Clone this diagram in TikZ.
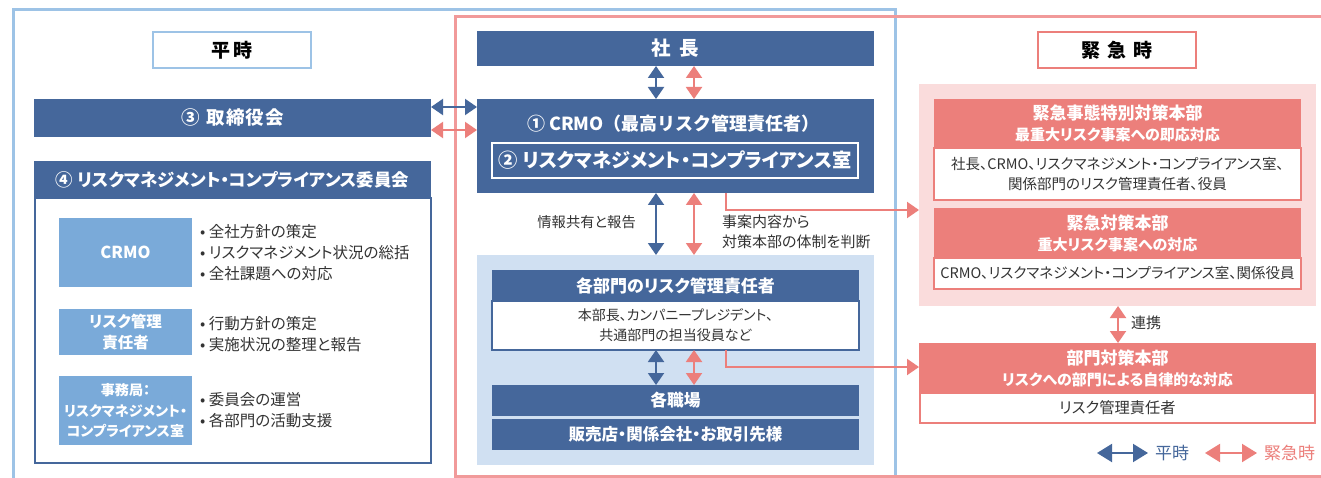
\documentclass[tikz,border=0pt]{standalone}
\usepackage{fontspec}
\setmainfont{Noto Sans CJK JP}[RawFeature={+palt}]
\newfontfamily\jpfull{Noto Sans CJK JP}
\usetikzlibrary{arrows.meta,calc}
\definecolor{dkblue}{HTML}{45679B}
\definecolor{ltblue}{HTML}{7AAAD9}
\definecolor{panelblue}{HTML}{D0E0F2}
\definecolor{frblue}{HTML}{9DC3E6}
\definecolor{pkhead}{HTML}{EC7F7B}
\definecolor{pkpanel}{HTML}{FADCDC}
\definecolor{frpink}{HTML}{F19A9A}
\definecolor{txtgray}{HTML}{333333}
\newcommand{\fsz}[2]{\fontsize{#1}{#2}\selectfont}
\newcommand{\hdline}[1]{{\fsz{17}{21}#1}}
\begin{document}
\begin{tikzpicture}[x=1pt,y=-1pt,
  box/.style={rectangle, inner sep=0pt, outer sep=0pt, align=center},
  bbar/.style={box, fill=dkblue, text=white, font=\bfseries\fsz{17}{20}},
  lbox/.style={box, fill=ltblue, text=white, font=\bfseries\fsz{15.5}{21}},
  pbar/.style={box, fill=pkhead, text=white, font=\bfseries\fsz{15}{21}},
  wbodyb/.style={box, fill=white, draw=dkblue, line width=1.5pt, text=txtgray, font=\fsz{14}{20}},
  wbodyp/.style={box, fill=white, draw=pkhead, line width=2pt, text=txtgray, font=\fsz{14.5}{19.5}},
  plain/.style={inner sep=0pt, text=txtgray, font=\fsz{15.5}{21}, align=left},
  tipd/.tip={Triangle[width=16pt,length=12pt]},
  tipl/.tip={Triangle[width=18pt,length=15pt]},
  barr/.style={draw=dkblue, line width=2pt, tipd-tipd},
  parr/.style={draw=pkhead, line width=2pt, tipd-tipd},
  pone/.style={draw=pkhead, line width=2pt, -tipd},
  lblbox/.style={box, fill=white, line width=2pt, minimum width=158pt, minimum height=36pt, text=black, font=\bfseries\fsz{19}{20}}
]
\useasboundingbox (0,0) rectangle (1321,478);
\clip (0,0) rectangle (1321,478);
\fill[white] (0,0) rectangle (1321,478);

% frames
\draw[frblue, line width=3pt] (13,490) -- (13,10) -- (895,10) -- (895,490);
\draw[frpink, line width=3pt] (1330,17) -- (455,17) -- (455,476) -- (1330,476);

% labels
\node[lblbox, draw=frblue] (heiji) at (232,50) {平\hspace{4pt}時};
\node[lblbox, draw=pkhead] (kinkyu) at (1117,50) {緊\hspace{7pt}急\hspace{7pt}時};

% left column
\node[bbar, font=\bfseries\fsz{18.5}{20}, minimum width=397pt, minimum height=38pt] (tori) at (232.5,118) {③\hspace{7pt}取\hspace{1pt}締\hspace{1pt}役\hspace{1pt}会};
\node[box, fill=white, draw=dkblue, line width=2pt, minimum width=396pt, minimum height=265pt] (ibody) at (232.5,330.5) {};
\node[bbar, font=\bfseries\fsz{17.4}{20}, minimum width=397pt, minimum height=37pt] (iinkai) at (232.5,179.5) {④ リスクマネジメント・コンプライアンス委員会};

\node[lbox, font=\bfseries\fsz{16.5}{20}, minimum width=133pt, minimum height=69pt] (lb1) at (125.5,252.5) {CRMO};
\node[lbox, minimum width=133pt, minimum height=46pt] (lb2) at (125.5,332) {リスク管理\\責任者};
\node[lbox, font=\bfseries\fsz{14.1}{20.5}, minimum width=133pt, minimum height=69pt] (lb3) at (125.5,410.5) {事務局：\\リスクマネジメント・\\コンプライアンス室};

\node[plain, anchor=west] (bl1) at (200,252.5) {• 全社方針の策定\\• リスクマネジメント状況の総括\\• 全社課題への対応};
\node[plain, anchor=west] (bl2) at (200,334) {• 行動方針の策定\\• 実施状況の整理と報告};
\node[plain, anchor=west] (bl3) at (200,410.5) {• 委員会の運営\\• 各部門の活動支援};

% center column
\node[bbar, font=\bfseries\fsz{19.5}{20}, minimum width=397pt, minimum height=35pt] (shacho) at (675.5,48.5) {社\hspace{9pt}長};
\node[bbar, minimum width=397pt, minimum height=94pt] (crmo) at (675.5,146) {};
\node[box, text=white, font=\bfseries\jpfull\fsz{18}{20}] (crmot) at (673.5,124) {① CRMO（最高リスク管理責任者）};
\node[box, draw=white, line width=1.5pt, minimum width=366pt, minimum height=35pt, text=white, font=\bfseries\fsz{19.3}{20}] (shitsu) at (675,160.5) {② リスクマネジメント・コンプライアンス室};

\node[box, fill=panelblue, minimum width=397pt, minimum height=210pt] (panel) at (675.5,360) {};
\node[bbar, minimum width=367pt, minimum height=31pt] (bhead) at (675.5,285.5) {各部門のリスク管理責任者};
\node[wbodyb, minimum width=367pt, minimum height=49pt] (bbody) at (675.5,325.5) {本部長、カンパニープレジデント、\\共通部門の担当役員など};
\node[bbar, font=\bfseries\fsz{16.7}{20}, minimum width=367pt, minimum height=31pt] (shokuba) at (675.5,400.5) {各職場};
\node[bbar, font=\bfseries\fsz{16.5}{20}, minimum width=367pt, minimum height=31pt] (hanbai) at (675.5,434.5) {販売店・関係会社・お取引先様};

\node[plain, anchor=east, font=\fsz{14.3}{20}] (lbl1) at (636,222) {情報共有と報告};
\node[plain, anchor=west, font=\fsz{15}{20}] (lbl2) at (722,232) {事案内容から\\対策本部の体制を判断};

% right column
\node[box, fill=pkpanel, minimum width=397pt, minimum height=222pt] (rpanel) at (1117.5,195) {};
\node[pbar, minimum width=367pt, minimum height=49pt] (e1head) at (1117.5,123.5) {\hdline{緊急事態特別対策本部}\\最重大リスク事案への即応対応};
\node[wbodyp, minimum width=367pt, minimum height=52pt] (e1body) at (1117.5,174) {社長、CRMO、リスクマネジメント・コンプライアンス室、\\関係部門のリスク管理責任者、役員};
\node[pbar, minimum width=367pt, minimum height=50pt] (e2head) at (1117.5,233) {\hdline{緊急対策本部}\\重大リスク事案への対応};
\node[wbodyp, minimum width=367pt, minimum height=31pt] (e2body) at (1117.5,273.5) {CRMO、リスクマネジメント・コンプライアンス室、関係役員};
\node[pbar, minimum width=397pt, minimum height=50pt] (bumon) at (1117.5,368) {\hdline{部門対策本部}\\リスクへの部門による自律的な対応};
\node[wbodyp, font=\fsz{15.3}{20}, minimum width=395pt, minimum height=30pt] (bbody2) at (1117.5,408) {リスク管理責任者};
\node[plain, anchor=west, font=\fsz{15}{20}] (renkei) at (1131,323) {連携};

% connectors
\coordinate (bx) at (656,0);
\coordinate (px) at (694,0);
\coordinate (ex) at (726,0);
\coordinate (rx) at (1118,0);
\coordinate (by) at (0,107);
\coordinate (py) at (0,130);
\coordinate (ey1) at (0,210);
\coordinate (ey2) at (0,367);
\draw[barr] (shacho.south -| bx) -- (crmo.north -| bx);
\draw[parr] (shacho.south -| px) -- (crmo.north -| px);
\draw[barr] (tori.east |- by) -- (crmo.west |- by);
\draw[parr] (tori.east |- py) -- (crmo.west |- py);
\draw[barr] (crmo.south -| bx) -- (panel.north -| bx);
\draw[parr] (crmo.south -| px) -- (panel.north -| px);
\draw[barr] (bbody.south -| bx) -- (shokuba.north -| bx);
\draw[parr] (bbody.south -| px) -- (shokuba.north -| px);
\draw[pone] (crmo.south -| ex) |- (rpanel.west |- ey1);
\draw[pone] (bbody.south -| ex) |- (bumon.west |- ey2);
\draw[parr] (rpanel.south -| rx) -- (bumon.north -| rx);

% legend
\coordinate (lgb1) at (1097,453);
\coordinate (lgb2) at (1148,453);
\coordinate (lgp1) at (1205,453);
\coordinate (lgp2) at (1257,453);
\draw[draw=dkblue, line width=2pt, tipl-tipl] (lgb1) -- (lgb2);
\node[inner sep=0pt, anchor=west, text=dkblue, font=\fsz{17}{18}] (lgbt) at (1155,453) {平時};
\draw[draw=pkhead, line width=2pt, tipl-tipl] (lgp1) -- (lgp2);
\node[inner sep=0pt, anchor=west, text=pkhead, font=\fsz{17}{18}] (lgpt) at (1264,453) {緊急時};
\end{tikzpicture}
\end{document}
